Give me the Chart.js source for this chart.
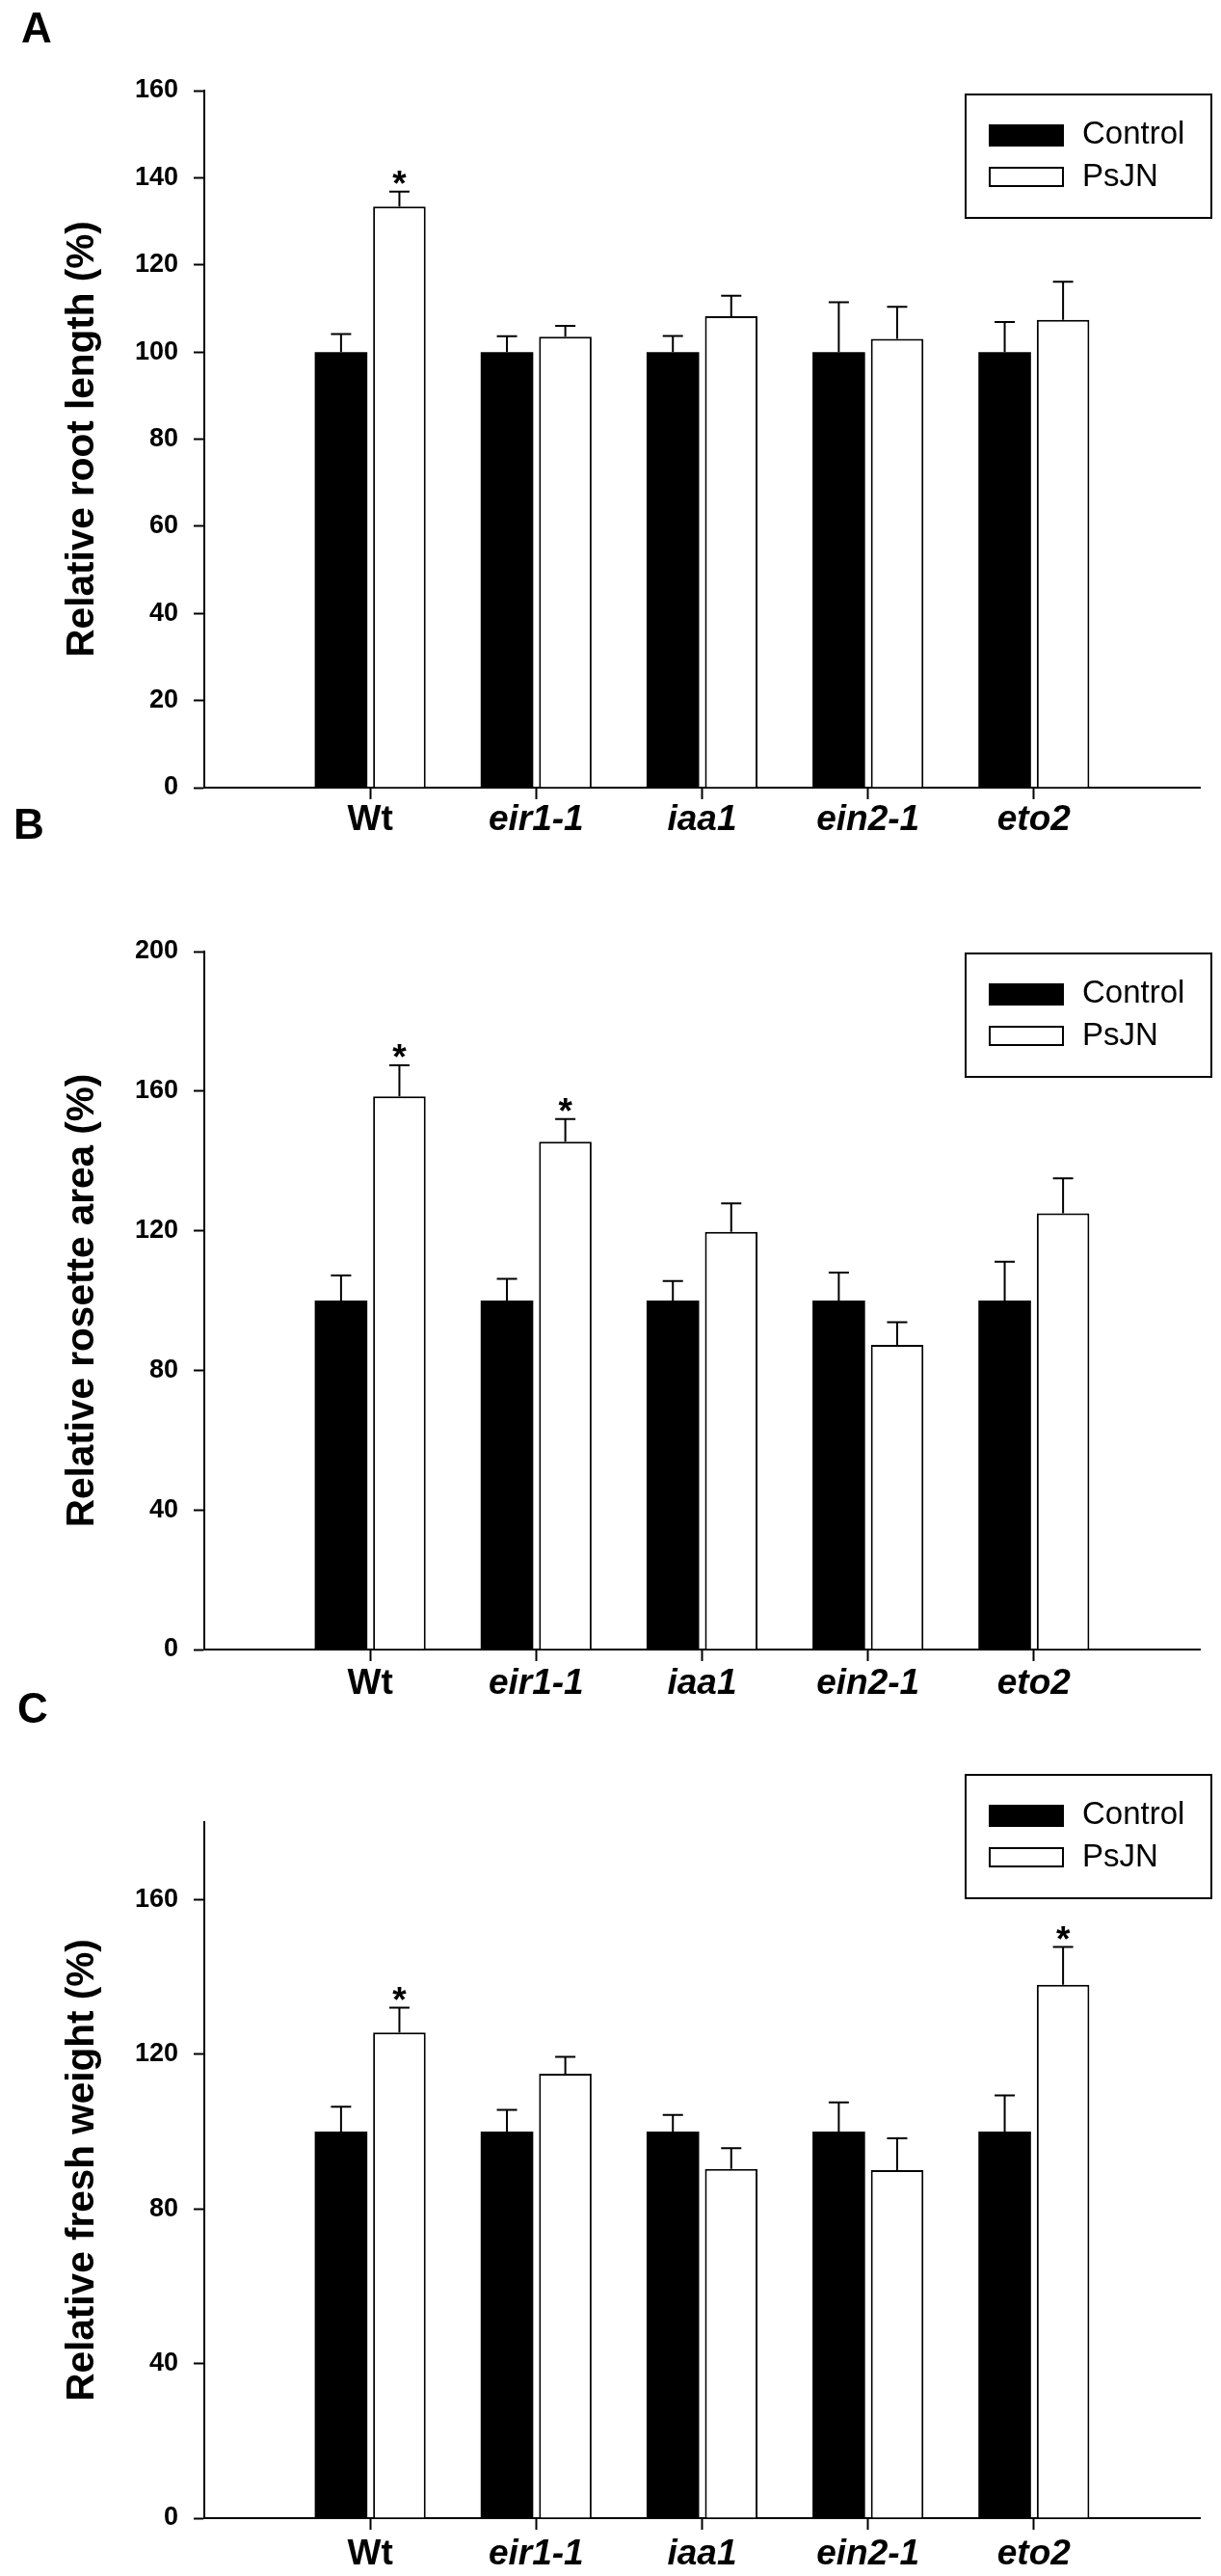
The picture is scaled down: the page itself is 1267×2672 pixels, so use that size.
<!DOCTYPE html>
<html>
<head>
<meta charset="utf-8">
<script src="https://cdn.jsdelivr.net/npm/chart.js@4.4.1/dist/chart.umd.min.js"></script>
<style>
html,body{margin:0;padding:0;background:#fff;}
#page{position:relative;width:1267px;height:2672px;overflow:hidden;background:#fff;}
canvas{position:absolute;left:0;}
.letter{position:absolute;font-family:'Liberation Sans',Arial,Helvetica,sans-serif;font-weight:bold;font-size:44px;line-height:44px;color:#000;z-index:2;}
</style>
</head>
<body>
<div id="page">
<canvas id="cA" width="1267" height="893" style="top:0px"></canvas>
<canvas id="cB" width="1267" height="893" style="top:893px"></canvas>
<canvas id="cC" width="1267" height="886" style="top:1786px"></canvas>
<div class="letter" style="left:22px;top:7px">A</div>
<div class="letter" style="left:14px;top:833px">B</div>
<div class="letter" style="left:18px;top:1750px">C</div>
</div>
<script>
// ---------------- DATA ----------------
const categories = ['Wt', 'eir1-1', 'iaa1', 'ein2-1', 'eto2'];
const uprightLabels = ['Wt'];
const seriesNames = ['Control', 'PsJN'];

// Panel A: relative root length
const rootTitle = 'Relative root length (%)';
const rootTicks = [0, 20, 40, 60, 80, 100, 120, 140, 160];
const rootControl = [100, 100, 100, 100, 100];
const rootControlErr = [4.1, 3.6, 3.7, 11.4, 6.9];
const rootPsJN = [133.4, 103.5, 108.2, 103.0, 107.4];
const rootPsJNErr = [3.4, 2.5, 4.7, 7.4, 8.7];
const rootSig = [true, false, false, false, false];

// Panel B: relative rosette area
const rosetteTitle = 'Relative rosette area (%)';
const rosetteTicks = [0, 40, 80, 120, 160, 200];
const rosetteControl = [100, 100, 100, 100, 100];
const rosetteControlErr = [7.2, 6.2, 5.6, 8.0, 11.1];
const rosettePsJN = [158.5, 145.5, 119.7, 87.3, 125.0];
const rosettePsJNErr = [8.9, 6.5, 8.1, 6.5, 10.0];
const rosetteSig = [true, true, false, false, false];

// Panel C: relative fresh weight
const freshTitle = 'Relative fresh weight (%)';
const freshTicks = [0, 40, 80, 120, 160];
const freshControl = [100, 100, 100, 100, 100];
const freshControlErr = [6.4, 5.6, 4.3, 7.5, 9.3];
const freshPsJN = [125.6, 114.9, 90.3, 90.0, 137.9];
const freshPsJNErr = [6.4, 4.4, 5.4, 8.2, 9.8];
const freshSig = [true, false, false, false, true];

// ---------------- RENDERING ----------------
const FONT = "'Liberation Sans', Arial, Helvetica, sans-serif";
function padded(arr) { return [null].concat(arr, [null]); }

const errorBarPlugin = {
  id: 'errorBars',
  afterDatasetsDraw(chart, args, opts) {
    const ctx = chart.ctx, y = chart.scales.y;
    ctx.save();
    ctx.strokeStyle = '#000';
    ctx.lineWidth = opts.lineWidth;
    chart.data.datasets.forEach((ds, di) => {
      const meta = chart.getDatasetMeta(di);
      meta.data.forEach((bar, i) => {
        const v = ds.data[i], e = ds.errors[i];
        if (v == null || e == null) return;
        const top = y.getPixelForValue(v + e);
        ctx.beginPath();
        ctx.moveTo(bar.x, bar.y);
        ctx.lineTo(bar.x, top);
        ctx.moveTo(bar.x - opts.capHalf, top);
        ctx.lineTo(bar.x + opts.capHalf, top);
        ctx.stroke();
      });
    });
    ctx.restore();
  }
};

const asteriskPlugin = {
  id: 'asterisks',
  afterDatasetsDraw(chart, args, opts) {
    const ds = chart.data.datasets[opts.datasetIndex];
    const meta = chart.getDatasetMeta(opts.datasetIndex);
    const y = chart.scales.y, ctx = chart.ctx;
    ctx.save();
    ctx.fillStyle = '#000';
    ctx.font = 'bold ' + opts.size + 'px ' + FONT;
    ctx.textAlign = 'center';
    ctx.textBaseline = 'alphabetic';
    opts.flags.forEach((f, k) => {
      if (!f) return;
      const i = k + 1;
      const bar = meta.data[i];
      const top = y.getPixelForValue(ds.data[i] + ds.errors[i]);
      ctx.fillText('*', bar.x, top + opts.gap);
    });
    ctx.restore();
  }
};

const boxLegendPlugin = {
  id: 'boxLegend',
  afterDraw(chart, args, o) {
    const ctx = chart.ctx, a = chart.chartArea;
    const left = a.right + o.dxLeft, right = a.right + o.dxRight;
    const top = a.top + o.dyTop, h = o.height;
    ctx.save();
    ctx.lineWidth = 2;
    ctx.strokeStyle = '#000';
    ctx.strokeRect(left + 1, top + 1, right - left - 2, h - 2);
    const sx = a.right + o.swatchLeft, sw = o.swatchWidth;
    ctx.font = o.fontSize + 'px ' + FONT;
    ctx.textAlign = 'left';
    ctx.textBaseline = 'middle';
    chart.data.datasets.forEach((ds, i) => {
      const row = o.rows[i];
      if (ds.borderWidth > 0) {
        ctx.fillStyle = ds.backgroundColor;
        ctx.fillRect(sx + 1, top + row.sTop + 1, sw - 2, row.sH - 2);
        ctx.strokeStyle = ds.borderColor;
        ctx.strokeRect(sx + 1, top + row.sTop + 1, sw - 2, row.sH - 2);
      } else {
        ctx.fillStyle = ds.backgroundColor;
        ctx.fillRect(sx, top + row.sTop, sw, row.sH);
      }
      ctx.fillStyle = '#000';
      ctx.fillText(ds.label, a.right + o.textLeft, top + row.tY);
    });
    ctx.restore();
  }
};

function makePanel(id, p) {
  const labels = [''].concat(categories, ['']);
  const lastCat = categories.length;
  return new Chart(document.getElementById(id), {
    type: 'bar',
    data: {
      labels: labels,
      datasets: [
        { label: seriesNames[0], data: padded(p.control), errors: padded(p.controlErr),
          backgroundColor: '#000000', borderColor: '#000000', borderWidth: 0 },
        { label: seriesNames[1], data: padded(p.psjn), errors: padded(p.psjnErr),
          backgroundColor: '#ffffff', borderColor: '#000000', borderWidth: 2 }
      ]
    },
    options: {
      responsive: false,
      animation: false,
      events: [],
      categoryPercentage: 0.7035,
      barPercentage: 0.9008,
      layout: { padding: { left: 0, right: 22, top: p.padTop, bottom: p.padBottom } },
      plugins: {
        legend: { display: false },
        tooltip: { enabled: false },
        errorBars: { lineWidth: 2, capHalf: 10.5 },
        asterisks: { datasetIndex: 1, flags: p.sig, size: 37, gap: 4 },
        boxLegend: {
          dxLeft: -244, dxRight: 13, dyTop: p.legendTop, height: 130,
          swatchLeft: -219, swatchWidth: 78, textLeft: -122, fontSize: 33,
          rows: [ { sTop: 32, sH: 23, tY: 43 }, { sTop: 76, sH: 21, tY: 87 } ]
        }
      },
      scales: {
        x: {
          type: 'category',
          offset: false,
          grid: {
            display: true, offset: false, drawOnChartArea: false, drawTicks: true,
            tickLength: 12, tickWidth: 2,
            tickColor: (c) => (c.index >= 1 && c.index <= lastCat) ? '#000000' : 'rgba(0,0,0,0)'
          },
          border: { display: true, color: '#000000', width: 2 },
          ticks: {
            color: '#000000', padding: p.xPad, autoSkip: false, maxRotation: 0, minRotation: 0,
            font: (c) => ({ family: FONT, size: 37, weight: 'bold', lineHeight: 1.2,
              style: (c.tick && uprightLabels.indexOf(c.tick.label) >= 0) ? 'normal' : 'italic' })
          },
          afterFit: (s) => { s.height = 60; }
        },
        y: {
          min: 0,
          max: p.max,
          afterBuildTicks: (s) => { s.ticks = p.ticks.map(v => ({ value: v })); },
          grid: { display: true, drawOnChartArea: false, drawTicks: true, tickLength: 11, tickWidth: 2, tickColor: '#000000' },
          border: { display: true, color: '#000000', width: 2 },
          ticks: { color: '#000000', padding: 16, font: { family: FONT, size: 27, weight: 'bold' } },
          title: {
            display: true, text: p.title, color: '#000000',
            font: { family: FONT, size: 40.5, weight: 'bold', lineHeight: 1.2 },
            padding: { top: 62, bottom: 0 }
          },
          afterFit: (s) => { s.width = 212; }
        }
      }
    },
    plugins: [errorBarPlugin, asteriskPlugin, boxLegendPlugin]
  });
}

makePanel('cA', { title: rootTitle, ticks: rootTicks, max: 160,
  control: rootControl, controlErr: rootControlErr, psjn: rootPsJN, psjnErr: rootPsJNErr, sig: rootSig,
  padTop: 94, padBottom: 16, legendTop: 3, xPad: 0 });
makePanel('cB', { title: rosetteTitle, ticks: rosetteTicks, max: 200,
  control: rosetteControl, controlErr: rosetteControlErr, psjn: rosettePsJN, psjnErr: rosettePsJNErr, sig: rosetteSig,
  padTop: 94, padBottom: 15, legendTop: 1, xPad: 2 });
makePanel('cC', { title: freshTitle, ticks: freshTicks, max: 180,
  control: freshControl, controlErr: freshControlErr, psjn: freshPsJN, psjnErr: freshPsJNErr, sig: freshSig,
  padTop: 104, padBottom: 0, legendTop: -50, xPad: 4 });
</script>
</body>
</html>
